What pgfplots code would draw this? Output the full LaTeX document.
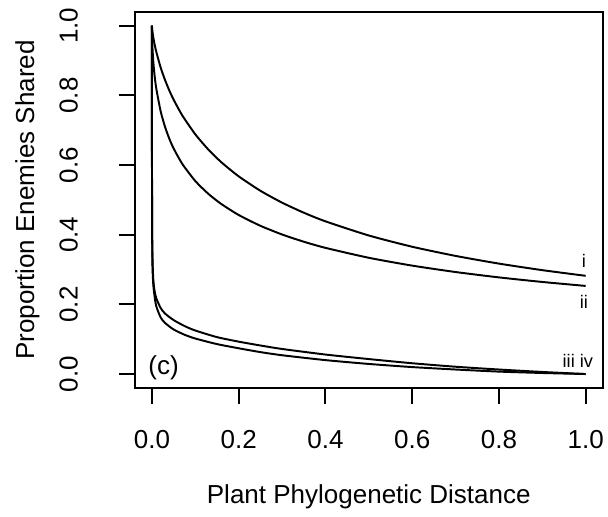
\documentclass[border=0pt]{standalone}
\usepackage{fontspec}
\setmainfont{Liberation Sans}
\usepackage{pgfplots}
\pgfplotsset{compat=1.18}
\begin{document}
\begin{tikzpicture}[font=\fontsize{12}{14.4}\selectfont]
\begin{axis}[
  scale only axis, width=216.2pt, height=173.6pt,
  xmin=-0.04, xmax=1.04, ymin=-0.04, ymax=1.04,
  clip=false,
  axis line style={line width=0.9pt},
  every tick/.style={black, line width=0.9pt},
  tick align=outside, major tick length=7.4pt,
  xtick pos=left, ytick pos=left,
  xtick={0,0.2,0.4,0.6,0.8,1.0}, ytick={0,0.2,0.4,0.6,0.8,1.0},
  xticklabels={0.0,0.2,0.4,0.6,0.8,1.0},
  yticklabels={0.0,0.2,0.4,0.6,0.8,1.0},
  /pgf/number format/assume math mode=true,
  xticklabel style={anchor=north, inner sep=0pt, font=\fontsize{12}{14.4}\selectfont},
  yticklabel style={rotate=90, anchor=south, inner sep=0pt, font=\fontsize{12}{14.4}\selectfont},
  xticklabel shift=12pt, yticklabel shift=18.5pt,
  xlabel={Plant Phylogenetic Distance},
  ylabel={Proportion Enemies Shared},
  xlabel style={at={([yshift=-50.2pt]axis description cs:0.5,0)}, anchor=center, font=\fontsize{12}{14.4}\selectfont},
  ylabel style={at={([xshift=-49.5pt]axis description cs:0,0.5)}, anchor=center, font=\fontsize{12}{14.4}\selectfont},
  cycle list={{black, line width=0.9pt}},
]
% curve i
\addplot[black, line width=0.9pt, smooth, tension=0.4] table {
x y
0 1.0
0.001 0.9859
0.003 0.9684
0.006 0.9479
0.01 0.9255
0.02 0.8807
0.03 0.8450
0.04 0.8145
0.05 0.7879
0.07 0.7426
0.1 0.6884
0.13 0.6447
0.16 0.6082
0.2 0.5677
0.25 0.5263
0.3 0.4921
0.35 0.4633
0.4 0.4385
0.5 0.3978
0.6 0.3655
0.7 0.3392
0.8 0.3171
0.9 0.2983
1.0 0.2820
};
% curve ii
\addplot[black, line width=0.9pt, smooth, tension=0.4] table {
x y
0 1.0
0.0005 0.9613
0.001 0.9438
0.003 0.9002
0.006 0.8591
0.01 0.8204
0.02 0.7553
0.03 0.7107
0.04 0.6761
0.05 0.6479
0.07 0.6034
0.1 0.5543
0.13 0.5175
0.16 0.4882
0.2 0.4567
0.25 0.4257
0.3 0.4007
0.35 0.3800
0.4 0.3623
0.5 0.3338
0.6 0.3113
0.7 0.2929
0.8 0.2775
0.9 0.2644
1.0 0.2530
};
% curve iii
\addplot[black, line width=0.9pt, smooth, tension=0.4] table {
x y
0 1.0
0.0002 0.6
0.001 0.36
0.003 0.275
0.006 0.24
0.01 0.218
0.02 0.19
0.03 0.174
0.05 0.155
0.075 0.138
0.1 0.125
0.15 0.106
0.2 0.093
0.25 0.082
0.3 0.072
0.4 0.056
0.5 0.043
0.6 0.031
0.7 0.021
0.8 0.013
0.9 0.006
1.0 0.0
};
% curve iv
\addplot[black, line width=0.9pt, smooth, tension=0.4] table {
x y
0 1.0
0.0002 0.55
0.001 0.33
0.003 0.26
0.006 0.225
0.01 0.195
0.02 0.163
0.03 0.147
0.05 0.128
0.075 0.113
0.1 0.102
0.15 0.086
0.2 0.074
0.25 0.063
0.3 0.054
0.4 0.040
0.5 0.029
0.6 0.020
0.7 0.013
0.8 0.007
0.9 0.003
1.0 0.0
};
\node[font=\fontsize{8.4}{10}\selectfont, inner sep=0pt] at (axis cs:0.996,0.326) {i};
\node[font=\fontsize{8.4}{10}\selectfont, inner sep=0pt] at (axis cs:0.996,0.208) {ii};
\node[font=\fontsize{8.4}{10}\selectfont, inner sep=0pt] at (axis cs:0.982,0.039) {iii iv};
\node[anchor=west, inner sep=0pt] at (axis cs:-0.009,0.017) {(c)};
\coordinate (bl) at (rel axis cs:0,0);
\coordinate (tr) at (rel axis cs:1,1);
\end{axis}
\path ([xshift=-62.1pt,yshift=-58.6pt]bl) rectangle ([xshift=2.3pt,yshift=5.45pt]tr);
\end{tikzpicture}
\end{document}
